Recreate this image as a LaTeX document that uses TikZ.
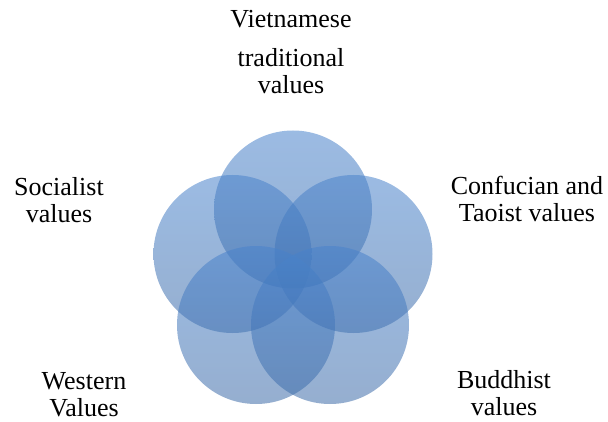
\documentclass[tikz,border=0pt]{standalone}
\usepackage{fontspec}
\setmainfont{Liberation Serif}
\usetikzlibrary{positioning}

\definecolor{petaltop}{RGB}{73,131,204}
\definecolor{petalbot}{RGB}{62,108,168}

\tikzset{
  petal/.style={circle, minimum size=158pt, inner sep=0pt, top color=petaltop, bottom color=petalbot, fill opacity=0.55, text opacity=1},
  lbl/.style={align=center, anchor=base, inner sep=0pt, font=\fontsize{26}{27}\selectfont}
}

\begin{document}
\begin{tikzpicture}[x=1pt,y=-1pt]
\useasboundingbox (0,0) rectangle (608,422);

\node[petal] (trad) at (293,209.5) {};
\node[petal] (social) at (232.5,254) {};
\node[petal] (confu) at (353.5,254) {};
\node[petal] (west) at (256,325) {};
\node[petal] (buddh) at (330,325) {};

\node[lbl] (tradlbl) at (291,94) {Vietnamese\\[12pt]traditional\\values};
\node[lbl] (sociallbl) at (59,223) {Socialist\\values};
\node[lbl] (confulbl) at (527,222) {Confucian and\\Taoist values};
\node[lbl] (westlbl) at (84,416) {Western\\Values};
\node[lbl] (buddhlbl) at (504,415) {Buddhist\\values};
\end{tikzpicture}
\end{document}
